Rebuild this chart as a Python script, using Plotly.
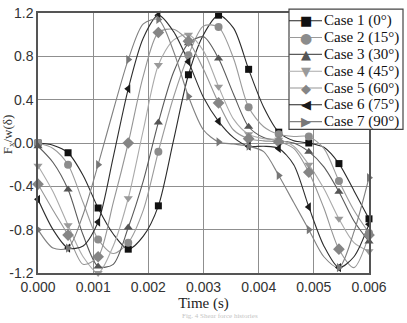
import plotly.graph_objects as go

# marker times (s)
t_mark = [0.0, 0.000545, 0.00109, 0.001636, 0.002182, 0.002727,
          0.003273, 0.003818, 0.004364, 0.004909, 0.005455, 0.006]
# in-between curve points (s), no markers
t_mid = [0.000273, 0.000818, 0.001364, 0.001909, 0.002455, 0.003,
         0.003545, 0.004091, 0.004636, 0.005182, 0.005727]

case_names = ["Case 1 (0°)", "Case 2 (15°)", "Case 3 (30°)", "Case 4 (45°)",
              "Case 5 (60°)", "Case 6 (75°)", "Case 7 (90°)"]

case1_mark = [0.0, -0.09, -0.60, -0.98, -0.58, 0.63, 1.18, 0.68, 0.10, 0.0, -0.19, -0.70]
case1_mid = [-0.02, -0.30, -0.84, -0.86, 0.02, 1.00, 1.06, 0.33, 0.02, -0.04, -0.44]

case2_mark = [0.0, -0.20, -0.89, -0.92, -0.08, 0.81, 1.07, 0.33, 0.08, 0.06, -0.35, -0.83]
case2_mid = [-0.05, -0.55, -1.02, -0.62, 0.42, 1.08, 0.78, 0.15, 0.06, -0.05, -0.62]

case3_mark = [-0.03, -0.43, -1.14, -0.78, 0.19, 0.92, 0.78, 0.15, 0.02, -0.08, -0.45, -0.91]
case3_mid = [-0.18, -0.85, -1.12, -0.35, 0.65, 0.98, 0.45, 0.05, 0.0, -0.22, -0.72]

case4_mark = [-0.21, -0.76, -1.20, -0.51, 0.72, 1.00, 0.52, 0.08, 0.03, -0.20, -0.70, -1.00]
case4_mid = [-0.45, -1.05, -0.95, 0.12, 0.95, 0.85, 0.22, 0.04, -0.03, -0.42, -0.92]

case5_mark = [-0.38, -0.85, -1.05, 0.0, 1.02, 0.94, 0.37, 0.04, 0.01, -0.27, -0.98, -0.85]
case5_mid = [-0.62, -1.12, -0.55, 0.62, 1.05, 0.68, 0.12, 0.02, -0.05, -0.60, -1.15]

case6_mark = [-0.52, -0.97, -0.73, 0.50, 1.18, 0.75, 0.20, -0.03, -0.05, -0.59, -1.15, -0.75]
case6_mid = [-0.80, -0.95, -0.13, 0.97, 1.03, 0.42, 0.05, -0.03, -0.20, -0.95, -1.05]

case7_mark = [-0.80, -0.97, -0.20, 0.77, 1.14, 0.43, 0.01, -0.03, -0.30, -0.80, -1.15, -0.32]
case7_mid = [-0.97, -0.66, 0.30, 1.10, 0.85, 0.12, -0.01, -0.08, -0.55, -1.05, -0.82]

x_ticks = [0.0, 0.001, 0.002, 0.003, 0.004, 0.005, 0.006]
x_ticktext = ["0.000", "0.001", "0.002", "0.003", "0.004", "0.005", "0.006"]
y_ticks = [-1.2, -0.8, -0.4, 0.0, 0.4, 0.8, 1.2]
y_ticktext = ["-1.2", "-0.8", "-0.4", "0.0", "0.4", "0.8", "1.2"]

marks = [case1_mark, case2_mark, case3_mark, case4_mark, case5_mark, case6_mark, case7_mark]
mids = [case1_mid, case2_mid, case3_mid, case4_mid, case5_mid, case6_mid, case7_mid]

symbols = ["square", "circle", "triangle-up", "triangle-down", "diamond",
           "triangle-left", "triangle-right"]
glyphs = ["■", "●", "▲", "▼", "◆", "◀", "▶"]
marker_colors = ["#111111", "#8c8c8c", "#555555", "#9a9a9a", "#858585", "#1a1a1a", "#777777"]
line_colors = ["#2a2a2a", "#9a9a9a", "#5a5a5a", "#aaaaaa", "#959595", "#2e2e2e", "#808080"]
marker_sizes = [7, 8, 8, 8, 9, 8, 8]

# plot-area geometry in pixels (for legend placement in paper coords)
W, H = 407, 323
ML, MR, MT, MB = 38, 38, 5, 50
PW, PH = W - ML - MR, H - MT - MB


def px(x):
    return (x - ML) / PW


def py(y):
    return (H - MB - y) / PH


fig = go.Figure()

for i in range(7):
    pts = sorted(list(zip(t_mark, marks[i])) + list(zip(t_mid, mids[i])))
    xs = [p[0] for p in pts]
    ys = [p[1] for p in pts]
    fig.add_trace(go.Scatter(
        x=xs, y=ys, mode="lines",
        line=dict(color=line_colors[i], width=1.1, shape="spline", smoothing=0.8),
        showlegend=False, hoverinfo="skip"))

for i in range(7):
    fig.add_trace(go.Scatter(
        x=t_mark, y=marks[i], mode="markers", name=case_names[i],
        marker=dict(symbol=symbols[i], color=marker_colors[i], size=marker_sizes[i],
                    line=dict(width=0)),
        showlegend=False, cliponaxis=False))

# legend box (drawn manually for compact row spacing)
leg_x0, leg_x1, leg_y0, leg_y1 = 289, 403, 1, 125
row0, row_h = 13, 17.33
shapes = [dict(type="rect", xref="paper", yref="paper", layer="above",
               x0=px(leg_x0), x1=px(leg_x1), y0=py(leg_y1), y1=py(leg_y0),
               fillcolor="white", line=dict(color="#444444", width=1.2))]
annotations = []
for i in range(7):
    yc = row0 + row_h * i
    shapes.append(dict(type="line", xref="paper", yref="paper", layer="above",
                       x0=px(leg_x0), x1=px(322), y0=py(yc), y1=py(yc),
                       line=dict(color=line_colors[i] if i not in (0, 5) else "#222222",
                                 width=1.1)))
    annotations.append(dict(text=glyphs[i], xref="paper", yref="paper",
                            x=px(306), y=py(yc), xanchor="center", yanchor="middle",
                            showarrow=False,
                            font=dict(family="DejaVu Sans", size=13 if i != 1 else 14,
                                      color=marker_colors[i])))
    annotations.append(dict(text=case_names[i], xref="paper", yref="paper",
                            x=px(322), y=py(yc), xanchor="left", yanchor="middle",
                            showarrow=False,
                            font=dict(family="Liberation Serif", size=15, color="#111111")))

annotations.append(dict(text="F<sub>x</sub>/w(δ)", textangle=-90, xref="paper", yref="paper",
                        x=px(8), y=py(130), xanchor="center", yanchor="middle",
                        showarrow=False,
                        font=dict(family="Liberation Serif", size=13, color="#333333")))
annotations.append(dict(text="Fig. 4 Shear force histories", xref="paper", yref="paper",
                        x=0.55, y=py(323), xanchor="center", yanchor="bottom",
                        showarrow=False,
                        font=dict(family="Liberation Serif", size=7, color="#c4c4c4")))

fig.update_layout(
    width=W, height=H,
    margin=dict(l=ML, r=MR, t=MT, b=MB),
    paper_bgcolor="white", plot_bgcolor="white",
    showlegend=False,
    font=dict(family="Liberation Serif", size=13, color="#222222"),
    xaxis=dict(range=[0, 0.006], tickvals=x_ticks, ticktext=x_ticktext,
               showgrid=True, gridcolor="#8f8f8f", gridwidth=1,
               showline=True, linecolor="#555555", linewidth=1.5, mirror=True,
               zeroline=False, ticks="", ticklabeloverflow="allow",
               tickfont=dict(family="Liberation Sans", size=14, color="#333333"),
               title=dict(text="Time (s)", standoff=4,
                          font=dict(family="Liberation Serif", size=15, color="#222222"))),
    yaxis=dict(range=[-1.2, 1.2], tickvals=y_ticks, ticktext=y_ticktext,
               showgrid=True, gridcolor="#8f8f8f", gridwidth=1,
               showline=True, linecolor="#555555", linewidth=1.5, mirror=True,
               zeroline=False, ticks="", ticklabeloverflow="allow",
               tickfont=dict(family="Liberation Sans", size=14, color="#333333")),
    shapes=shapes,
    annotations=annotations,
)

fig.write_html("out.html")
